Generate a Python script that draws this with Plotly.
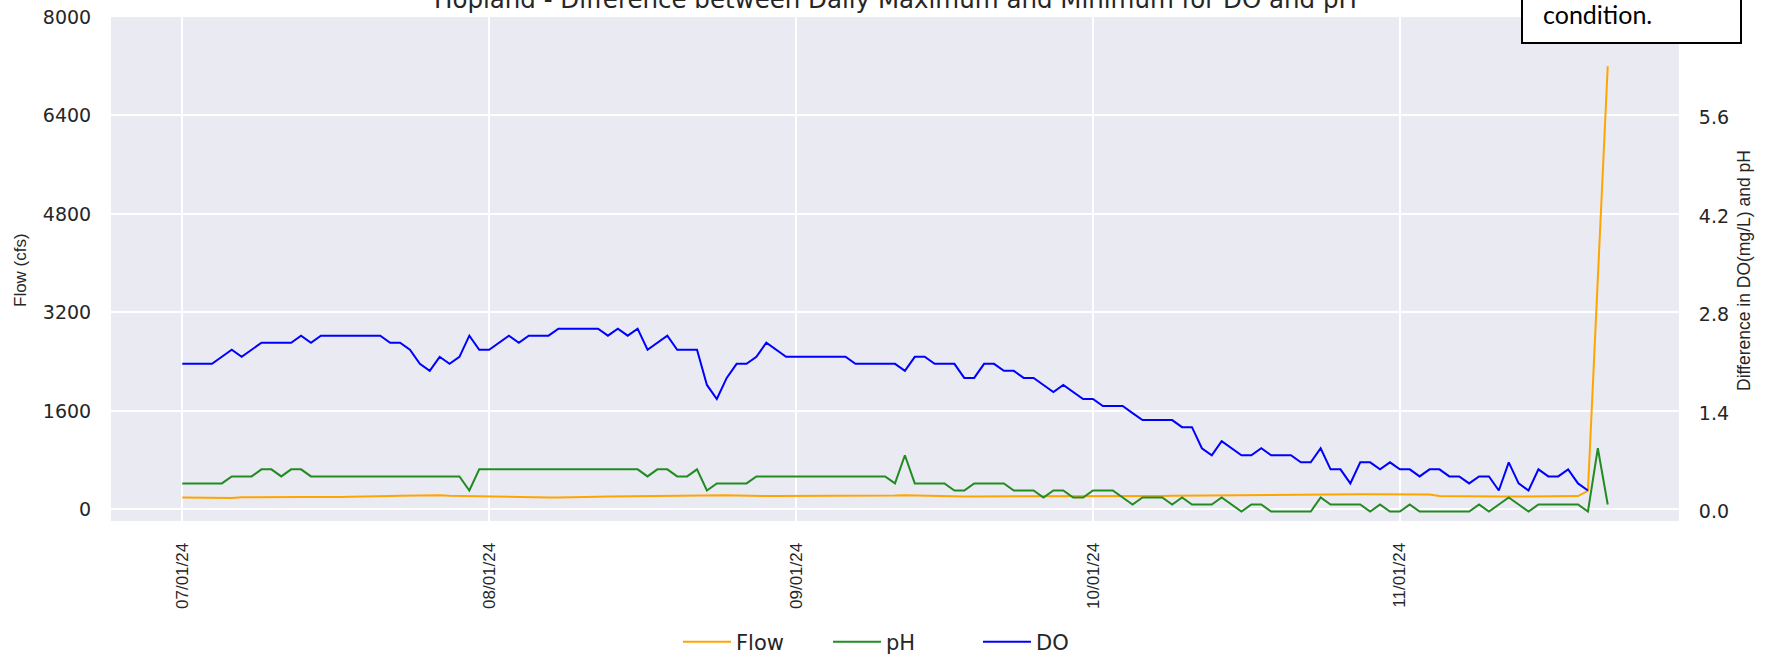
import pandas as pd
import plotly.graph_objects as go

# ---- data ----
dates = pd.date_range(start="2024-07-01", periods=145, freq="D")

do_diff = [
    2.1, 2.1, 2.1, 2.1, 2.2, 2.3, 2.2, 2.3, 2.4, 2.4,
    2.4, 2.4, 2.5, 2.4, 2.5, 2.5, 2.5, 2.5, 2.5, 2.5,
    2.5, 2.4, 2.4, 2.3, 2.1, 2.0, 2.2, 2.1, 2.2, 2.5,
    2.3, 2.3, 2.4, 2.5, 2.4, 2.5, 2.5, 2.5, 2.6, 2.6,
    2.6, 2.6, 2.6, 2.5, 2.6, 2.5, 2.6, 2.3, 2.4, 2.5,
    2.3, 2.3, 2.3, 1.8, 1.6, 1.9, 2.1, 2.1, 2.2, 2.4,
    2.3, 2.2, 2.2, 2.2, 2.2, 2.2, 2.2, 2.2, 2.1, 2.1,
    2.1, 2.1, 2.1, 2.0, 2.2, 2.2, 2.1, 2.1, 2.1, 1.9,
    1.9, 2.1, 2.1, 2.0, 2.0, 1.9, 1.9, 1.8, 1.7, 1.8,
    1.7, 1.6, 1.6, 1.5, 1.5, 1.5, 1.4, 1.3, 1.3, 1.3,
    1.3, 1.2, 1.2, 0.9, 0.8, 1.0, 0.9, 0.8, 0.8, 0.9,
    0.8, 0.8, 0.8, 0.7, 0.7, 0.9, 0.6, 0.6, 0.4, 0.7,
    0.7, 0.6, 0.7, 0.6, 0.6, 0.5, 0.6, 0.6, 0.5, 0.5,
    0.4, 0.5, 0.5, 0.3, 0.7, 0.4, 0.3, 0.6, 0.5, 0.5,
    0.6, 0.4, 0.3, None, None,
]

ph_diff = [
    0.4, 0.4, 0.4, 0.4, 0.4, 0.5, 0.5, 0.5, 0.6, 0.6,
    0.5, 0.6, 0.6, 0.5, 0.5, 0.5, 0.5, 0.5, 0.5, 0.5,
    0.5, 0.5, 0.5, 0.5, 0.5, 0.5, 0.5, 0.5, 0.5, 0.3,
    0.6, 0.6, 0.6, 0.6, 0.6, 0.6, 0.6, 0.6, 0.6, 0.6,
    0.6, 0.6, 0.6, 0.6, 0.6, 0.6, 0.6, 0.5, 0.6, 0.6,
    0.5, 0.5, 0.6, 0.3, 0.4, 0.4, 0.4, 0.4, 0.5, 0.5,
    0.5, 0.5, 0.5, 0.5, 0.5, 0.5, 0.5, 0.5, 0.5, 0.5,
    0.5, 0.5, 0.4, 0.8, 0.4, 0.4, 0.4, 0.4, 0.3, 0.3,
    0.4, 0.4, 0.4, 0.4, 0.3, 0.3, 0.3, 0.2, 0.3, 0.3,
    0.2, 0.2, 0.3, 0.3, 0.3, 0.2, 0.1, 0.2, 0.2, 0.2,
    0.1, 0.2, 0.1, 0.1, 0.1, 0.2, 0.1, 0.0, 0.1, 0.1,
    0.0, 0.0, 0.0, 0.0, 0.0, 0.2, 0.1, 0.1, 0.1, 0.1,
    0.0, 0.1, 0.0, 0.0, 0.1, 0.0, 0.0, 0.0, 0.0, 0.0,
    0.0, 0.1, 0.0, 0.1, 0.2, 0.1, 0.0, 0.1, 0.1, 0.1,
    0.1, 0.1, 0.0, 0.9, 0.1,
]

flow_cfs = [
    190, 188, 186, 182, 180, 182, 195, 198, 200, 200,
    198, 200, 202, 200, 198, 200, 202, 205, 205, 206,
    208, 215, 220, 222, 232, 235, 230, 222, 218, 215,
    210, 205, 200, 195, 190, 188, 188, 190, 192, 198,
    200, 202, 205, 208, 210, 212, 215, 218, 220, 222,
    225, 228, 230, 232, 232, 230, 225, 218, 215, 215,
    215, 215, 218, 218, 215, 215, 218, 218, 220, 220,
    220, 222, 225, 230, 225, 220, 215, 212, 210, 210,
    210, 210, 210, 212, 212, 210, 210, 210, 208, 208,
    206, 206, 208, 208, 210, 210, 212, 215, 215, 218,
    220, 222, 222, 225, 225, 228, 228, 230, 232, 232,
    235, 235, 238, 238, 240, 240, 242, 244, 245, 245,
    245, 246, 246, 245, 244, 242, 240, 215, 212, 210,
    210, 210, 210, 208, 208, 208, 210, 210, 210, 212,
    212, 215, 300, 3750, 7200,
]

month_ticks = ["2024-07-01", "2024-08-01", "2024-09-01", "2024-10-01", "2024-11-01"]
month_labels = ["07/01/24", "08/01/24", "09/01/24", "10/01/24", "11/01/24"]
flow_ticks = [0, 1600, 3200, 4800, 6400, 8000]
diff_ticks = [0.0, 1.4, 2.8, 4.2, 5.6]
diff_labels = ["0.0", "1.4", "2.8", "4.2", "5.6"]

title_text = "Hopland - Difference between Daily Maximum and Minimum for DO and pH"
box_text = "condition."

# ---- figure ----
W, H = 1777, 658
L, R, T, B = 111, 1679, 17, 521   # plot area in pixels
pw, ph = R - L, B - T


def px(xp):
    return (xp - L) / pw


def py(yp):
    return (B - yp) / ph


TXT = "#262626"
HFONT = "DejaVu Sans"
VFONT = "Liberation Sans"

fig = go.Figure()
fig.add_trace(go.Scatter(x=dates, y=flow_cfs, name="Flow", mode="lines",
                         line=dict(color="#FFA500", width=2), yaxis="y"))
fig.add_trace(go.Scatter(x=dates, y=ph_diff, name="pH", mode="lines",
                         line=dict(color="#228B22", width=2), yaxis="y2"))
fig.add_trace(go.Scatter(x=dates, y=do_diff, name="DO", mode="lines",
                         line=dict(color="#0000FF", width=2), yaxis="y2"))

x0 = pd.Timestamp("2024-07-01") - pd.Timedelta(hours=7.2 * 24)
x1 = pd.Timestamp("2024-07-01") + pd.Timedelta(hours=151.2 * 24)

fig.update_layout(
    width=W, height=H,
    margin=dict(l=L, r=W - R, t=T, b=H - B, pad=0, autoexpand=False),
    paper_bgcolor="white",
    plot_bgcolor="#EAEAF2",
    font=dict(family=HFONT, size=18, color=TXT),
    showlegend=True,
    legend=dict(orientation="h", x=px(678), xanchor="left",
                y=py(642), yanchor="middle",
                font=dict(family=HFONT, size=21, color=TXT),
                bgcolor="rgba(0,0,0,0)", itemwidth=48,
                entrywidth=87, entrywidthmode="pixels"),
    xaxis=dict(
        type="date", range=[x0, x1],
        tickvals=month_ticks, ticktext=month_labels, tickangle=-90,
        tickfont=dict(family=VFONT, size=17, color=TXT),
        ticks="outside", ticklen=14, tickcolor="rgba(0,0,0,0)",
        showgrid=True, gridcolor="white", gridwidth=1.6,
        showline=False, zeroline=False, automargin=False,
    ),
    yaxis=dict(
        range=[-190, 8000], tickvals=flow_ticks,
        tickfont=dict(family=HFONT, size=19, color=TXT),
        ticks="outside", ticklen=15, tickcolor="rgba(0,0,0,0)",
        showgrid=True, gridcolor="white", gridwidth=1.6,
        showline=False, zeroline=False, automargin=False,
    ),
    yaxis2=dict(
        overlaying="y", side="right",
        range=[-0.134, 7.03], tickvals=diff_ticks, ticktext=diff_labels,
        tickfont=dict(family=HFONT, size=19, color=TXT),
        ticks="outside", ticklen=15, tickcolor="rgba(0,0,0,0)",
        showgrid=False, showline=False, zeroline=False, automargin=False,
    ),
)

# axis titles and chart title (placed as text)
fig.add_annotation(text="Flow (cfs)", xref="paper", yref="paper",
                   x=px(20), y=py(270), xanchor="center", yanchor="middle",
                   textangle=-90, showarrow=False,
                   font=dict(family=VFONT, size=17, color=TXT))
fig.add_annotation(text="Difference in DO(mg/L) and pH", xref="paper", yref="paper",
                   x=px(1744), y=py(270), xanchor="center", yanchor="middle",
                   textangle=-90, showarrow=False,
                   font=dict(family=VFONT, size=17.5, color=TXT))
fig.add_annotation(text=title_text, xref="paper", yref="paper",
                   x=px(895), y=py(16), xanchor="center", yanchor="bottom",
                   showarrow=False, font=dict(family=HFONT, size=24.5, color=TXT))

# overlaid text box at top right
fig.add_shape(type="rect", xref="paper", yref="paper",
              x0=px(1522), x1=px(1741), y0=py(43), y1=py(-30),
              fillcolor="white", line=dict(color="black", width=2), layer="above")
fig.add_annotation(text=box_text, xref="paper", yref="paper",
                   x=px(1541), y=py(31), xanchor="left", yanchor="bottom",
                   showarrow=False, font=dict(family="Lato", size=25, color="black"))

fig.write_html("out.html",
               config={"displayModeBar": False},
               post_script="document.body.style.margin='0';document.body.style.overflow='hidden';")
